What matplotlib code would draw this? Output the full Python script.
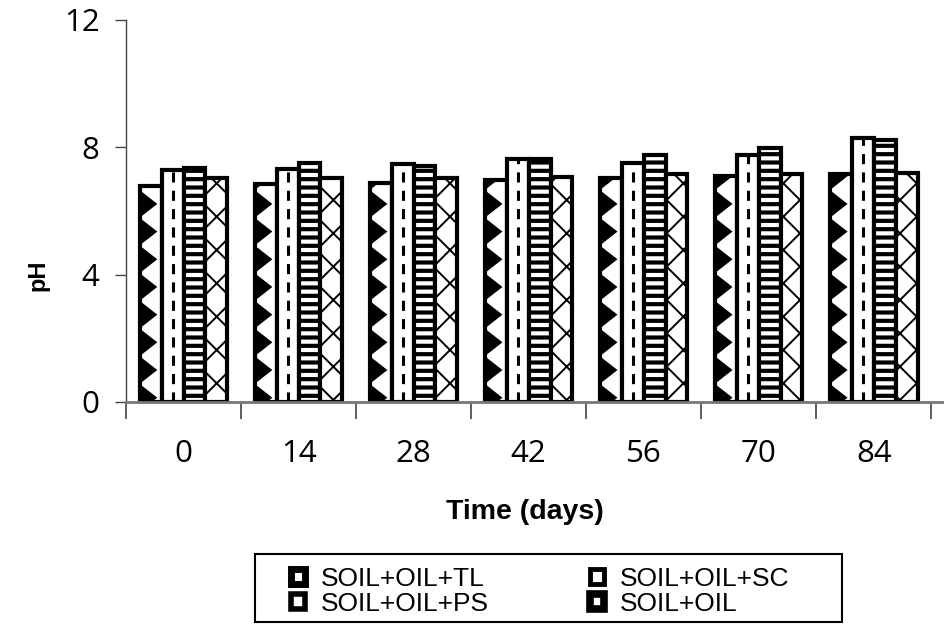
import numpy as np
import matplotlib.pyplot as plt
from matplotlib.patches import Polygon, Patch, Rectangle
from matplotlib.collections import PatchCollection

days = ['0', '14', '28', '42', '56', '70', '84']
ph_tl = [6.78, 6.85, 6.88, 6.97, 7.03, 7.1, 7.15]
ph_sc = [7.27, 7.33, 7.47, 7.62, 7.5, 7.75, 8.3]
ph_ps = [7.35, 7.5, 7.4, 7.62, 7.75, 7.97, 8.22]
ph_oil = [7.02, 7.02, 7.02, 7.05, 7.15, 7.15, 7.2]
labels = ['SOIL+OIL+TL', 'SOIL+OIL+SC', 'SOIL+OIL+PS', 'SOIL+OIL']

plt.rcParams['hatch.linewidth'] = 1.4
plt.rcParams['hatch.color'] = 'black'

fig = plt.figure(figsize=(9.44, 6.24), dpi=100)
ax = fig.add_axes([0.1335, 0.356, 0.8665, 0.612])

x = np.arange(len(days))
w = 0.19
bar_kw = dict(width=w, facecolor='white', edgecolor='black', linewidth=3)
b_tl = ax.bar(x - 1.5 * w, ph_tl, **bar_kw)
b_sc = ax.bar(x - 0.5 * w, ph_sc, **bar_kw)
b_ps = ax.bar(x + 0.5 * w, ph_ps, hatch='--', **bar_kw)
b_oil = ax.bar(x + 1.5 * w, ph_oil, hatch='x', **bar_kw)
for b in b_ps:
    b.set_hatch_linewidth(3)

# sawtooth fill on the left side of the TL bars
for r in b_tl:
    x0, w0, h = r.get_x(), r.get_width(), r.get_height()
    tris = [Polygon([(x0, yc - 0.43), (x0 + 0.8 * w0, yc), (x0, yc + 0.43)])
            for yc in np.arange(0.13, h + 0.5, 0.87)]
    pc = PatchCollection(tris, facecolor='black', edgecolor='none')
    ax.add_collection(pc)
    pc.set_clip_path(r)

# dashed centre line in the SC bars
for r in b_sc:
    xc = r.get_x() + r.get_width() / 2
    ax.plot([xc, xc], [0, r.get_height()], color='black', lw=2.2,
            dashes=(3.3, 2.7))

ax.set_ylim(0, 12)
ax.set_yticks([0, 4, 8, 12])
ax.set_xlim(-0.5, 6.61)
ax.set_xticks(np.arange(-0.5, 6.6, 1.0))
ax.set_xticklabels([])
ax.set_xticks(x, minor=True)
ax.set_xticklabels(days, minor=True)

tick_font = ['Open Sans', 'DejaVu Sans']
for lab in ax.get_xticklabels(minor=True) + ax.get_yticklabels():
    lab.set_family(tick_font)
ax.tick_params(axis='x', which='major', length=12, width=1.2, color='#444444')
ax.tick_params(axis='x', which='minor', length=0, pad=27, labelsize=22.5)
ax.tick_params(axis='y', length=8, width=1, color='#444444', pad=11, labelsize=22.5)

ax.spines['top'].set_visible(False)
ax.spines['right'].set_visible(False)
ax.spines['left'].set_color('#444444')
ax.spines['left'].set_linewidth(1)
ax.spines['bottom'].set_color('#777777')
ax.spines['bottom'].set_linewidth(2)

ax.set_ylabel('pH', fontsize=17, fontweight='bold', family='Liberation Sans', va='center')
ax.yaxis.set_label_coords(-0.108, 0.332)
ax.set_xlabel('Time (days)', fontsize=20.5, fontweight='bold', family='Liberation Sans', va='center')
ax.xaxis.set_label_coords(0.488, -0.288)

# small legend keys: black squares with a little white centre
key_tl = Patch(facecolor='white', edgecolor='black', linewidth=5)
key_sc = Patch(facecolor='white', edgecolor='black', linewidth=3.5)
key_ps = Patch(facecolor='white', edgecolor='black', linewidth=4, hatch='-')
key_oil = Patch(facecolor='white', edgecolor='black', linewidth=5.5)

fig.legend([key_tl, key_ps, key_sc, key_oil], [labels[0], labels[2], labels[1], labels[3]],
           ncol=2, loc='upper left', mode='expand',
           bbox_to_anchor=(280 / 944, 1 - 556 / 624, (800 - 280) / 944, 0.0),
           prop={'family': 'Liberation Sans', 'size': 19},
           frameon=False, handlelength=0.55, handleheight=0.5, handletextpad=0.6,
           labelspacing=0.05, borderpad=0.4, borderaxespad=0)
fig.add_artist(Rectangle((255 / 944, 2 / 624), (842 - 255) / 944, (622 - 554) / 624,
                         transform=fig.transFigure, facecolor='none',
                         edgecolor='black', linewidth=1.5))

plt.savefig('out.png', dpi=100)
